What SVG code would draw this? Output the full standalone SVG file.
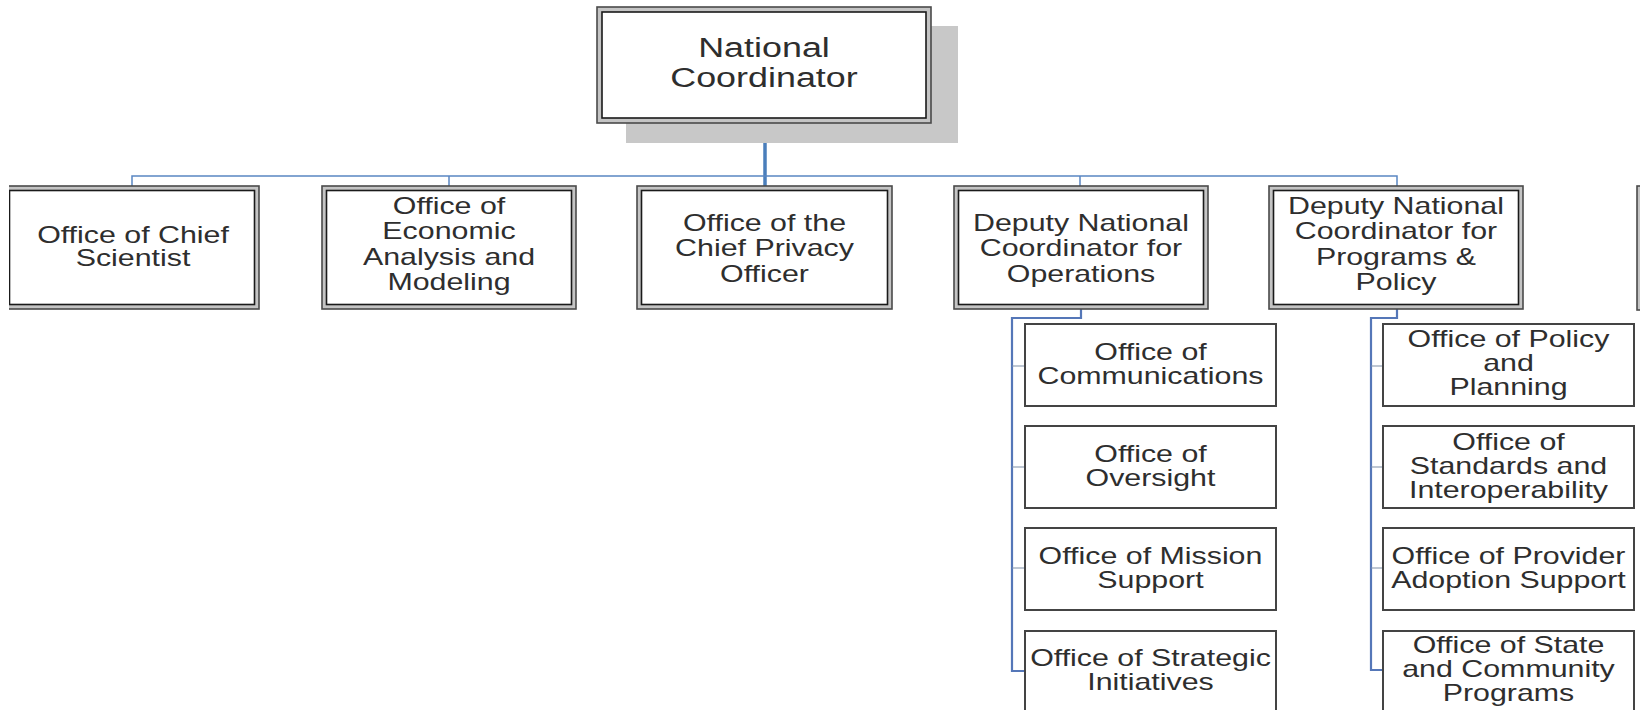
<svg xmlns="http://www.w3.org/2000/svg" width="1640" height="710" viewBox="0 0 1640 710">
<defs>
<style>
.outer{fill:#c4c4c4;stroke:#4a4a4a;stroke-width:1.6}
.inner{fill:#ffffff;stroke:#1a1a1a;stroke-width:1.6}
.sub{fill:#ffffff;stroke:#444444;stroke-width:2}
.shadow{fill:#c8c8c8}
.t{font-family:"Liberation Sans",Arial,sans-serif;font-size:23px;fill:#2e2e2e;text-anchor:middle}
.big{font-size:27px}
.bus{fill:none;stroke:#5a86c2;stroke-width:1.5}
.main{fill:none;stroke:#4a7ebb;stroke-width:3.5}
.branch{fill:none;stroke:#5577b8;stroke-width:2.2}
.tick{fill:none;stroke:#7f8fa8;stroke-width:1.2}
</style>
<clipPath id="leftclip"><rect x="9" y="0" width="1640" height="710"/></clipPath>
</defs>
<rect x="0" y="0" width="1640" height="710" fill="#ffffff"/>

<g id="connectors">
<path class="main" d="M765,123 V186"/>
<path class="bus" d="M132,186 V176 H1397 V186"/>
<path class="bus" d="M449,176 V186"/>
<path class="bus" d="M1080,176 V186"/>
<path class="branch" d="M1081,308 V318 H1012 V671 H1025"/>
<path class="tick" d="M1012,366 H1025 M1012,467 H1025 M1012,568 H1025"/>
<path class="branch" d="M1397,309 V318 H1371 V670 H1383"/>
<path class="tick" d="M1371,366 H1383 M1371,467 H1383 M1371,568 H1383"/>
</g>

<g id="national-coordinator">
<rect class="shadow" x="626" y="26" width="332" height="117"/>
<rect class="outer" x="597" y="7" width="334" height="116"/>
<rect class="inner" x="602" y="12" width="324" height="106"/>
<text class="t big" transform="translate(764,57) scale(1.33,1)"><tspan x="0" y="0">National</tspan><tspan x="0" y="30">Coordinator</tspan></text>
</g>

<g id="chief-scientist" clip-path="url(#leftclip)">
<rect class="outer" x="5" y="186" width="254" height="123"/>
<rect class="inner" x="9.5" y="190.5" width="245" height="114"/>
<text class="t" transform="translate(133,243) scale(1.32,1)"><tspan x="0" y="0">Office of Chief</tspan><tspan x="0" y="23">Scientist</tspan></text>
</g>

<g id="economic-analysis">
<rect class="outer" x="322" y="186" width="254" height="123"/>
<rect class="inner" x="326.5" y="190.5" width="245" height="114"/>
<text class="t" transform="translate(449,214) scale(1.32,1)"><tspan x="0" y="0">Office of</tspan><tspan x="0" y="25.5">Economic</tspan><tspan x="0" y="51">Analysis and</tspan><tspan x="0" y="76.5">Modeling</tspan></text>
</g>

<g id="chief-privacy">
<rect class="outer" x="637" y="186" width="255" height="123"/>
<rect class="inner" x="641.5" y="190.5" width="246" height="114"/>
<text class="t" transform="translate(764.5,231) scale(1.32,1)"><tspan x="0" y="0">Office of the</tspan><tspan x="0" y="25.5">Chief Privacy</tspan><tspan x="0" y="51">Officer</tspan></text>
</g>

<g id="deputy-operations">
<rect class="outer" x="954" y="186" width="254" height="123"/>
<rect class="inner" x="958.5" y="190.5" width="245" height="114"/>
<text class="t" transform="translate(1081,231) scale(1.32,1)"><tspan x="0" y="0">Deputy National</tspan><tspan x="0" y="25.5">Coordinator for</tspan><tspan x="0" y="51">Operations</tspan></text>
</g>

<g id="deputy-programs">
<rect class="outer" x="1269" y="186" width="254" height="123"/>
<rect class="inner" x="1273.5" y="190.5" width="245" height="114"/>
<text class="t" transform="translate(1396,214) scale(1.32,1)"><tspan x="0" y="0">Deputy National</tspan><tspan x="0" y="25.5">Coordinator for</tspan><tspan x="0" y="51">Programs &amp;</tspan><tspan x="0" y="76.5">Policy</tspan></text>
</g>

<g id="cutoff-box">
<rect class="outer" x="1637" y="186" width="60" height="124"/>
<rect class="inner" x="1641.5" y="190.5" width="51" height="115"/>
</g>

<g id="communications">
<rect class="sub" x="1025" y="324" width="251" height="82"/>
<text class="t" transform="translate(1150.5,360) scale(1.32,1)"><tspan x="0" y="0">Office of</tspan><tspan x="0" y="24">Communications</tspan></text>
</g>
<g id="oversight">
<rect class="sub" x="1025" y="426" width="251" height="82"/>
<text class="t" transform="translate(1150.5,462) scale(1.32,1)"><tspan x="0" y="0">Office of</tspan><tspan x="0" y="24">Oversight</tspan></text>
</g>
<g id="mission-support">
<rect class="sub" x="1025" y="528" width="251" height="82"/>
<text class="t" transform="translate(1150.5,564) scale(1.32,1)"><tspan x="0" y="0">Office of Mission</tspan><tspan x="0" y="24">Support</tspan></text>
</g>
<g id="strategic-initiatives">
<rect class="sub" x="1025" y="631" width="251" height="82"/>
<text class="t" transform="translate(1150.5,666) scale(1.32,1)"><tspan x="0" y="0">Office of Strategic</tspan><tspan x="0" y="24">Initiatives</tspan></text>
</g>

<g id="policy-planning">
<rect class="sub" x="1383" y="324" width="251" height="82"/>
<text class="t" transform="translate(1508.5,347) scale(1.32,1)"><tspan x="0" y="0">Office of Policy</tspan><tspan x="0" y="24">and</tspan><tspan x="0" y="48">Planning</tspan></text>
</g>
<g id="standards-interoperability">
<rect class="sub" x="1383" y="426" width="251" height="82"/>
<text class="t" transform="translate(1508.5,450) scale(1.32,1)"><tspan x="0" y="0">Office of</tspan><tspan x="0" y="24">Standards and</tspan><tspan x="0" y="48">Interoperability</tspan></text>
</g>
<g id="provider-adoption">
<rect class="sub" x="1383" y="528" width="251" height="82"/>
<text class="t" transform="translate(1508.5,564) scale(1.32,1)"><tspan x="0" y="0">Office of Provider</tspan><tspan x="0" y="24">Adoption Support</tspan></text>
</g>
<g id="state-community">
<rect class="sub" x="1383" y="631" width="251" height="82"/>
<text class="t" transform="translate(1508.5,653) scale(1.32,1)"><tspan x="0" y="0">Office of State</tspan><tspan x="0" y="24">and Community</tspan><tspan x="0" y="48">Programs</tspan></text>
</g>
</svg>
